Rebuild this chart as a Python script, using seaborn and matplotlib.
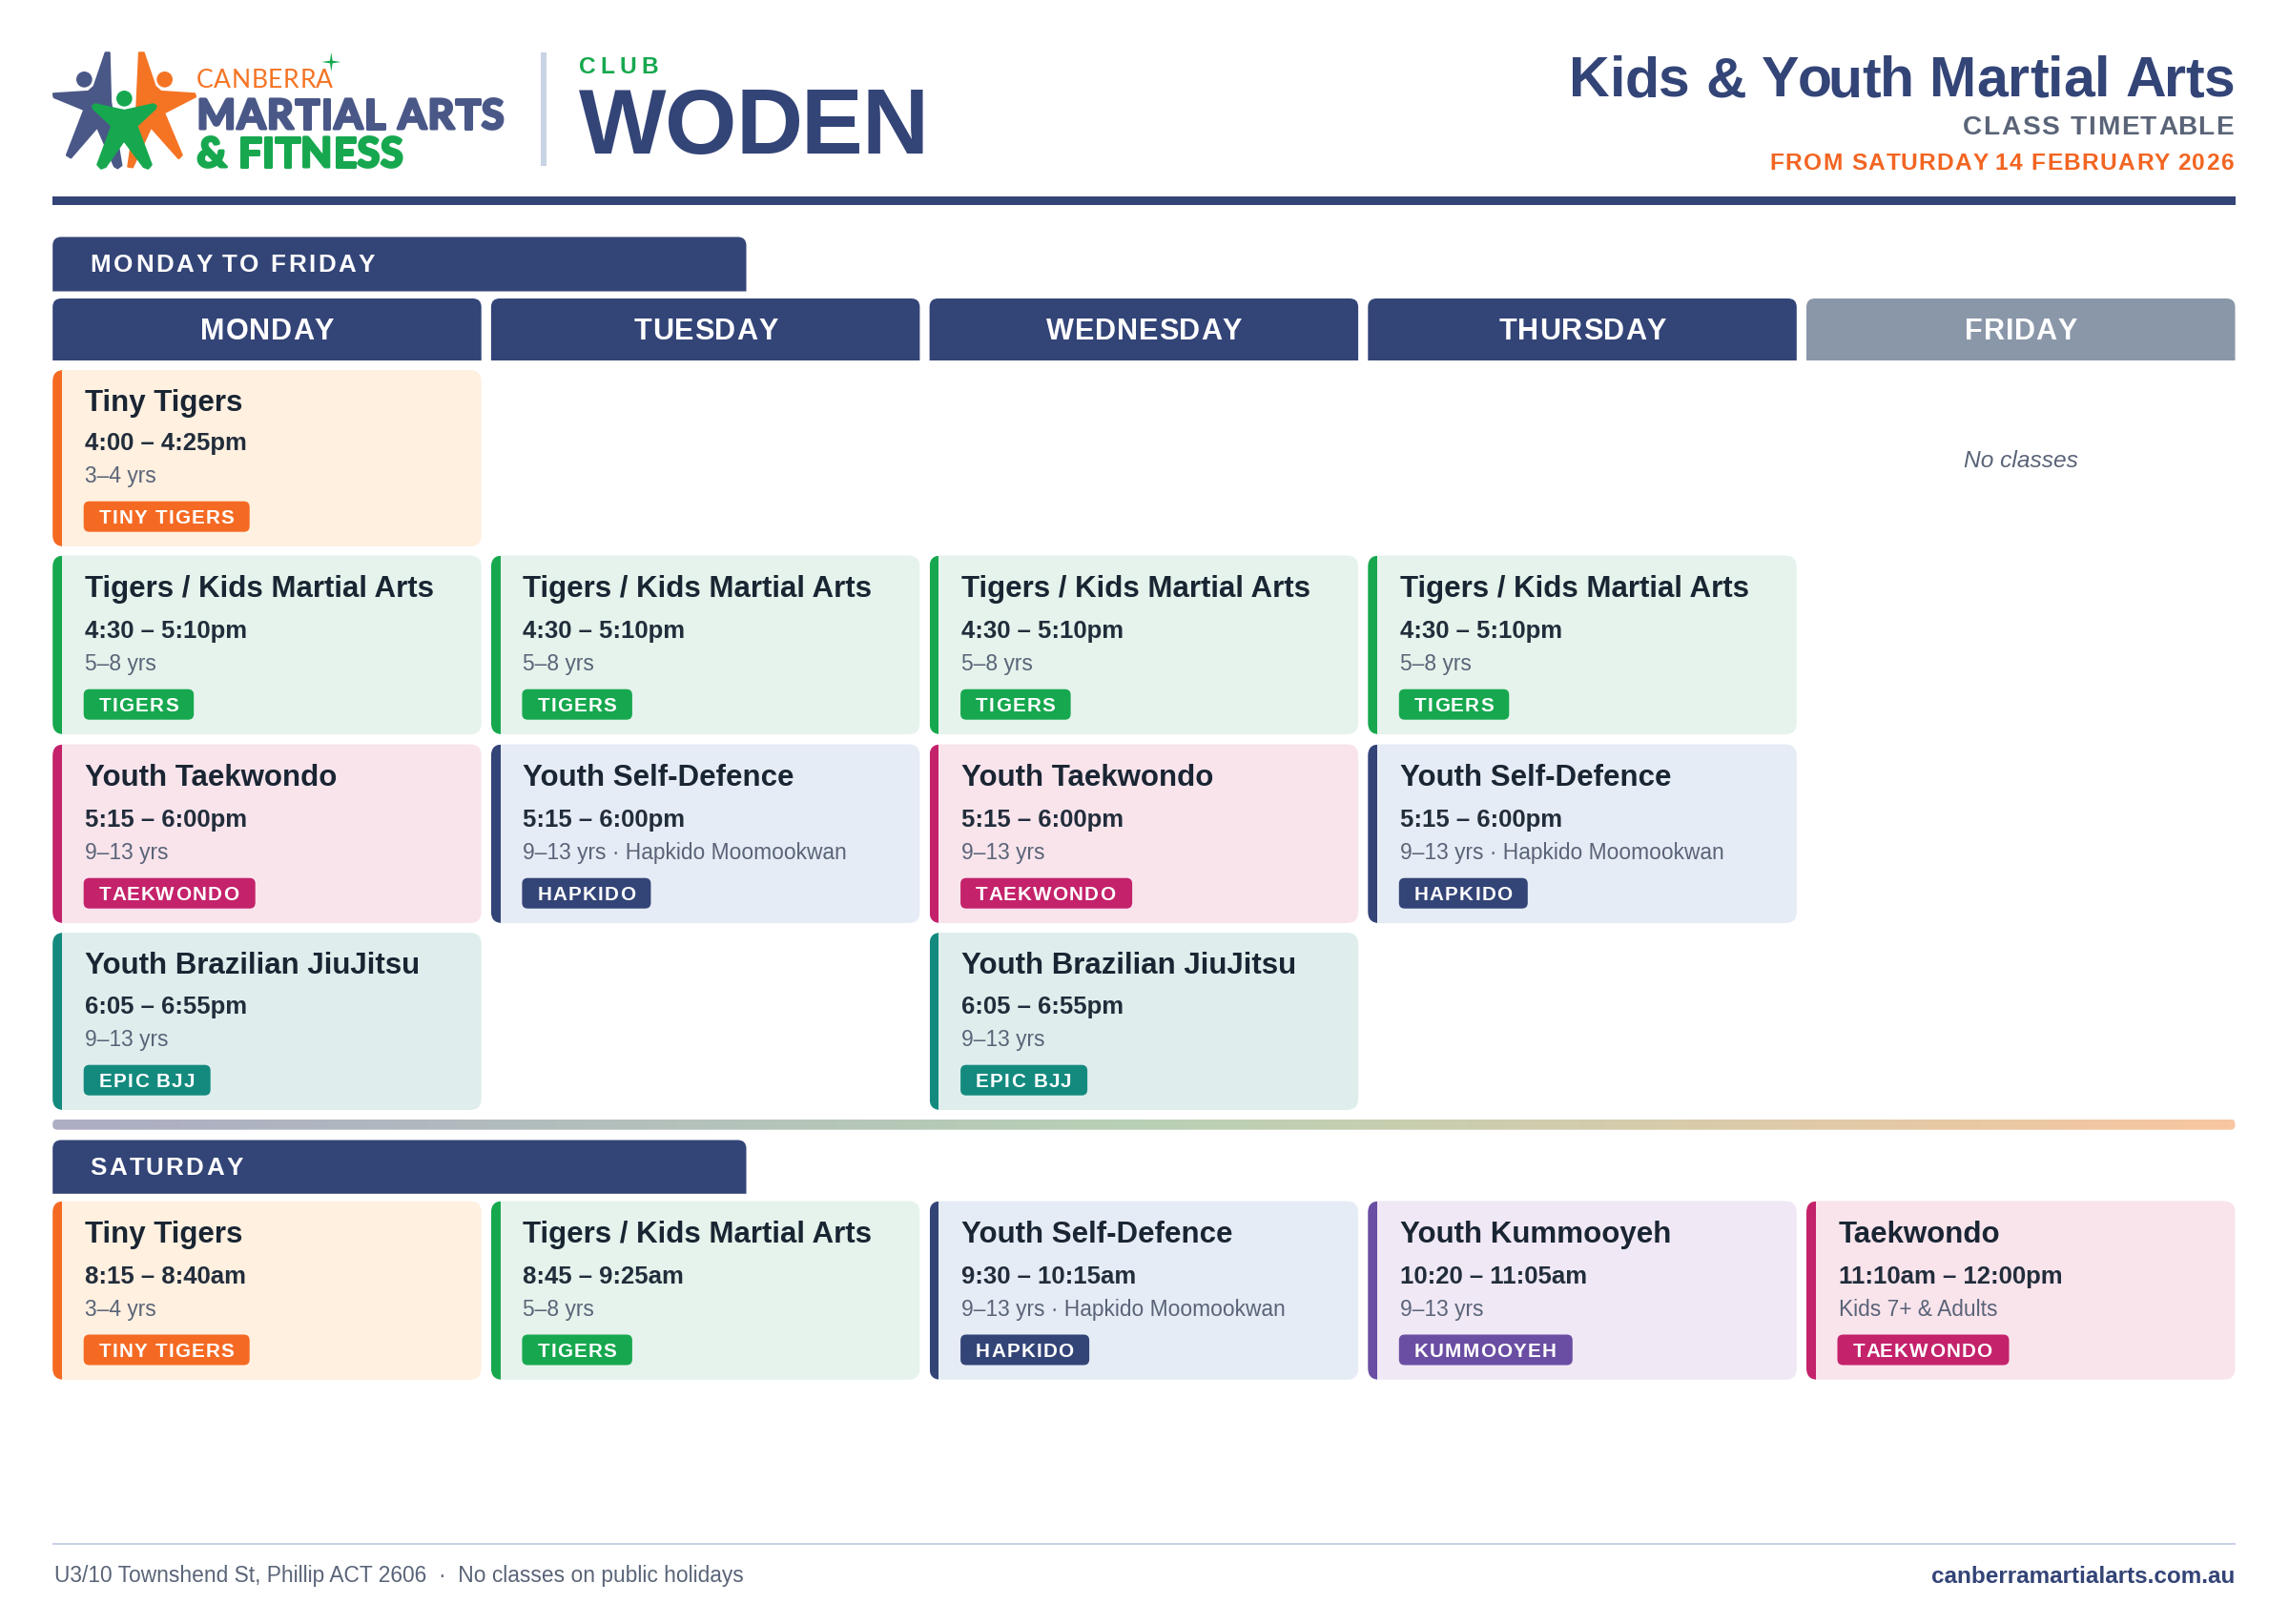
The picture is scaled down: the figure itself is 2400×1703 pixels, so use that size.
import numpy as np
import pandas as pd
import seaborn as sns
import matplotlib
matplotlib.use("Agg")
import matplotlib.pyplot as plt
from matplotlib.patches import FancyBboxPatch, PathPatch, Rectangle, Polygon, Circle
from matplotlib.path import Path
from matplotlib.text import Text
from matplotlib.transforms import IdentityTransform
from matplotlib.colors import LinearSegmentedColormap
import matplotlib.patheffects as pe

# ---------- data ----------
DAYS = ["MONDAY", "TUESDAY", "WEDNESDAY", "THURSDAY", "FRIDAY"]
SECTION_WEEK = "MONDAY TO FRIDAY"
SECTION_SAT = "SATURDAY"

WEEK_COL = [0, 0, 1, 2, 3, 0, 1, 2, 3, 0, 2]
WEEK_ROW = [0, 1, 1, 1, 1, 2, 2, 2, 2, 3, 3]
WEEK_TITLE = ["Tiny Tigers"] + ["Tigers / Kids Martial Arts"] * 4 + [
    "Youth Taekwondo", "Youth Self-Defence", "Youth Taekwondo", "Youth Self-Defence",
    "Youth Brazilian JiuJitsu", "Youth Brazilian JiuJitsu"]
WEEK_TIME = ["4:00 – 4:25pm"] + ["4:30 – 5:10pm"] * 4 + ["5:15 – 6:00pm"] * 4 + ["6:05 – 6:55pm"] * 2
WEEK_AGE = ["3–4 yrs"] + ["5–8 yrs"] * 4 + [
    "9–13 yrs", "9–13 yrs · Hapkido Moomookwan", "9–13 yrs", "9–13 yrs · Hapkido Moomookwan",
    "9–13 yrs", "9–13 yrs"]
WEEK_BADGE = ["TINY TIGERS"] + ["TIGERS"] * 4 + [
    "TAEKWONDO", "HAPKIDO", "TAEKWONDO", "HAPKIDO", "EPIC BJJ", "EPIC BJJ"]

SAT_COL = [0, 1, 2, 3, 4]
SAT_TITLE = ["Tiny Tigers", "Tigers / Kids Martial Arts", "Youth Self-Defence", "Youth Kummooyeh", "Taekwondo"]
SAT_TIME = ["8:15 – 8:40am", "8:45 – 9:25am", "9:30 – 10:15am", "10:20 – 11:05am", "11:10am – 12:00pm"]
SAT_AGE = ["3–4 yrs", "5–8 yrs", "9–13 yrs · Hapkido Moomookwan", "9–13 yrs", "Kids 7+ & Adults"]
SAT_BADGE = ["TINY TIGERS", "TIGERS", "HAPKIDO", "KUMMOOYEH", "TAEKWONDO"]

week = pd.DataFrame(dict(col=WEEK_COL, row=WEEK_ROW, title=WEEK_TITLE, time=WEEK_TIME, age=WEEK_AGE, badge=WEEK_BADGE))
sat = pd.DataFrame(dict(col=SAT_COL, row=0, title=SAT_TITLE, time=SAT_TIME, age=SAT_AGE, badge=SAT_BADGE))

# ---------- style ----------
NAVY = "#334477"
ORANGE = "#F56A23"
GREEN = "#17A84F"
SLATE = "#5A6478"
STYLE = {
    "TINY TIGERS": (ORANGE, "#FFF0E0"),
    "TIGERS": (GREEN, "#E6F3EC"),
    "TAEKWONDO": ("#C4226B", "#F9E4EC"),
    "HAPKIDO": (NAVY, "#E6ECF5"),
    "EPIC BJJ": ("#148A7F", "#DFEEED"),
    "KUMMOOYEH": ("#6A4EA3", "#F0E8F5"),
}
BADGE_W = {"TINY TIGERS": 174, "TIGERS": 115.5, "TAEKWONDO": 180, "HAPKIDO": 135, "EPIC BJJ": 133, "KUMMOOYEH": 182}

X0, PITCH, COLW = 55.2, 459.7, 449.5
RIGHT = 2343.5
ROW_TOP = [388, 582.5, 780.5, 978]
ROW_BOT = [573, 770, 968, 1164]
SAT_TOP, SAT_BOT = 1259.5, 1446.8

sns.set_theme(style="white")
plt.rcParams["font.family"] = ["Liberation Sans", "DejaVu Sans"]


class SpacedText(Text):
    """One text object drawn with CSS-like letter spacing (in pixels)."""

    def __init__(self, x, y, s, spacing=0.0, **kw):
        super().__init__(x, y, s, **kw)
        self.spacing = spacing

    def _w(self, renderer, s):
        fp = self.get_fontproperties()
        a = renderer.get_text_width_height_descent(s + "|", fp, False)[0]
        b = renderer.get_text_width_height_descent("|", fp, False)[0]
        return a - b

    def get_window_extent(self, renderer=None, dpi=None):
        bb = super().get_window_extent(renderer, dpi)
        extra = self.spacing * (len(self.get_text()) - 1)
        ha = self.get_ha()
        if ha == "left":
            return type(bb).from_extents(bb.x0, bb.y0, bb.x1 + extra, bb.y1)
        if ha == "right":
            return type(bb).from_extents(bb.x0 - extra, bb.y0, bb.x1, bb.y1)
        return type(bb).from_extents(bb.x0 - extra / 2, bb.y0, bb.x1 + extra / 2, bb.y1)

    def draw(self, renderer):
        if not self.spacing:
            return super().draw(renderer)
        s = self.get_text()
        total = self._w(renderer, s) + self.spacing * (len(s) - 1)
        px, py = self.get_transform().transform(self.get_unitless_position())
        ha = self.get_ha()
        start = px if ha == "left" else (px - total if ha == "right" else px - total / 2)
        for i, ch in enumerate(s):
            if ch == " ":
                continue
            t = Text(start + self._w(renderer, s[:i]) + i * self.spacing, py, ch,
                     transform=IdentityTransform(), ha="left", va="baseline",
                     color=self.get_color(), fontproperties=self.get_fontproperties(),
                     path_effects=self.get_path_effects())
            t.set_figure(self.figure)
            t.draw(renderer)


fig = plt.figure(figsize=(24, 17.03), dpi=100, facecolor="white")
ax = fig.add_axes([0, 0, 1, 1])
ax.set_xlim(0, 2400)
ax.set_ylim(1703, 0)
sns.despine(ax=ax, left=True, bottom=True)
ax.axis("off")


def txt(x, y, s, px, color, weight="normal", ha="left", spacing=0.0, style="normal", family=None, fx=None, z=10):
    kw = {}
    if family:
        kw["family"] = family
    t = SpacedText(x, y, s, spacing=spacing, fontsize=px * 0.72, color=color, fontweight=weight, ha=ha,
                   va="baseline", fontstyle=style, zorder=z, **kw)
    if fx:
        t.set_path_effects(fx)
    ax.add_artist(t)
    return t


def top_round(x0, y0, x1, y1, r, color):
    verts = [(x0, y1), (x0, y0 + r), (x0, y0), (x0 + r, y0), (x1 - r, y0), (x1, y0), (x1, y0 + r), (x1, y1), (x0, y1)]
    codes = [Path.MOVETO, Path.LINETO, Path.CURVE3, Path.CURVE3, Path.LINETO, Path.CURVE3, Path.CURVE3, Path.LINETO,
             Path.CLOSEPOLY]
    ax.add_patch(PathPatch(Path(verts, codes), fc=color, ec="none", zorder=3))


def rrect(x0, y0, x1, y1, r, color, z=3):
    p = FancyBboxPatch((x0, y0), x1 - x0, y1 - y0, boxstyle=f"round,pad=0,rounding_size={r}", fc=color, ec="none",
                       zorder=z)
    ax.add_patch(p)
    return p


def card(col, top, bot, title, time, age, badge):
    accent, bg = STYLE[badge]
    x = X0 + col * PITCH
    shape = rrect(x, top, x + COLW, bot, 12, bg)
    bar = Rectangle((x, top), 9.8, bot - top, fc=accent, ec="none", zorder=4)
    ax.add_patch(bar)
    bar.set_clip_path(shape)
    tx = x + 33.5
    txt(tx, top + 43.2, title, 31.3, "#1A2533", "bold")
    txt(tx, bot - 100.6, time, 25.7, "#222D3B", "bold")
    txt(tx, bot - 66.8, age, 22.7, SLATE)
    rrect(x + 32.5, bot - 47.3, x + 32.5 + BADGE_W[badge], bot - 15.3, 6, accent, z=5)
    txt(x + 48.5, bot - 23.8, badge, 20.6, "white", "bold", spacing=1.25)


# ---------- logo ----------
def lx(p):
    return [(40 + a / 3, 40 + b / 3) for a, b in p]


BLUE_L = "#4A5888"
ORANGE_L = "#F47424"
fig_blue = [(212, 46), (224, 46), (228, 200), (262, 400), (250, 409), (240, 403), (186, 280), (103, 376), (90, 368),
            (145, 225), (50, 186), (48, 175), (158, 168), (176, 152)]
fig_orange = [(318, 46), (332, 46), (368, 152), (386, 168), (492, 175), (495, 184), (396, 235), (452, 368), (442, 378),
              (355, 280), (297, 406), (283, 404), (310, 220)]
fig_green = [(172, 213), (180, 208), (271, 228), (362, 208), (371, 213), (368, 222), (310, 276), (356, 398), (346, 410),
             (332, 405), (270, 322), (212, 405), (198, 410), (187, 398), (232, 276), (174, 222)]
for pts, c, h in [(fig_blue, BLUE_L, (145, 130)), (fig_orange, ORANGE_L, (398, 130)), (fig_green, GREEN, (271, 190))]:
    ax.add_patch(Polygon(lx(pts), closed=True, fc=c, ec=c, lw=1.6, joinstyle="round", zorder=5))
    ax.add_patch(Circle(lx([h])[0], 25 / 3, fc=c, ec="none", zorder=5))
ax.add_patch(Polygon(lx([(922, 45), (926, 71), (952, 75), (926, 79), (922, 105), (918, 79), (892, 75), (918, 71)]),
                     closed=True, fc=GREEN, ec="none", zorder=5))
txt(205.7, 92.3, "CANBERRA", 26.5, ORANGE_L, "normal", family=["Lato", "Liberation Sans"], spacing=0.6)
rnd_b = [pe.Stroke(linewidth=2.2, foreground=BLUE_L, joinstyle="round"), pe.Normal()]
rnd_g = [pe.Stroke(linewidth=2.2, foreground=GREEN, joinstyle="round"), pe.Normal()]
txt(206.5, 135, "MARTIAL ARTS", 43, BLUE_L, "bold", family=["Lato", "Liberation Sans"], spacing=1.4, fx=rnd_b)
txt(206.5, 175, "& FITNESS", 43, GREEN, "bold", family=["Lato", "Liberation Sans"], spacing=0.8, fx=rnd_g)

# ---------- header ----------
ax.add_patch(Rectangle((567, 55), 6, 119, fc="#C8D3E3", ec="none", zorder=3))
txt(607, 76.7, "CLUB", 24.5, GREEN, "bold", spacing=5.0)
txt(607, 160.7, "WODEN", 97, NAVY, "bold", spacing=-1.4)
txt(RIGHT, 101, "Kids & Youth Martial Arts", 59, NAVY, "bold", ha="right", spacing=-0.2)
txt(RIGHT - 1.5, 141.3, "CLASS TIMETABLE", 28, SLATE, "bold", ha="right", spacing=1.7)
txt(RIGHT - 1.5, 177.7, "FROM SATURDAY 14 FEBRUARY 2026", 24.5, "#F26522", "bold", ha="right", spacing=1.36)
ax.add_patch(Rectangle((X0, 206), RIGHT - X0, 8.5, fc=NAVY, ec="none", zorder=3))

# ---------- week ----------
top_round(X0, 248.5, 782.5, 305.5, 9, NAVY)
txt(94.7, 285, SECTION_WEEK, 26, "white", "bold", spacing=2.6)
for i, d in enumerate(DAYS):
    x = X0 + i * PITCH
    top_round(x, 313, x + COLW, 378, 9, NAVY if d != "FRIDAY" else "#8A97A9")
    txt(x + COLW / 2 - 1, 356.5, d, 30.7, "white", "bold", ha="center", spacing=0.8)
for r in week.itertuples():
    card(r.col, ROW_TOP[r.row], ROW_BOT[r.row], r.title, r.time, r.age, r.badge)
txt(X0 + 4 * PITCH + COLW / 2, 489.5, "No classes", 24.5, SLATE, ha="center", style="italic")

# ---------- gradient divider ----------
cm = LinearSegmentedColormap.from_list("div", ["#ADADC4", "#B8D0B4", "#F8C6A0"])
bar = rrect(X0, 1173.7, RIGHT, 1184.7, 5, "none")
im = ax.imshow(np.linspace(0, 1, 512)[None, :], extent=(X0, RIGHT, 1184.7, 1173.7), cmap=cm, aspect="auto", zorder=3)
im.set_clip_path(bar)
ax.set_xlim(0, 2400)
ax.set_ylim(1703, 0)

# ---------- saturday ----------
top_round(X0, 1195.5, 782.5, 1251.8, 9, NAVY)
txt(94.7, 1232, SECTION_SAT, 26, "white", "bold", spacing=2.5)
for r in sat.itertuples():
    card(r.col, SAT_TOP, SAT_BOT, r.title, r.time, r.age, r.badge)

# ---------- footer ----------
ax.add_patch(Rectangle((X0, 1617.5), RIGHT - X0, 2.5, fc="#C8D0E4", ec="none", zorder=3))
txt(56.6, 1659.5, "U3/10 Townshend St, Phillip ACT 2606  ·  No classes on public holidays", 22.8, SLATE)
txt(RIGHT, 1659.5, "canberramartialarts.com.au", 24.25, NAVY, "bold", ha="right")

fig.savefig("out.png", dpi=100, facecolor="white")
